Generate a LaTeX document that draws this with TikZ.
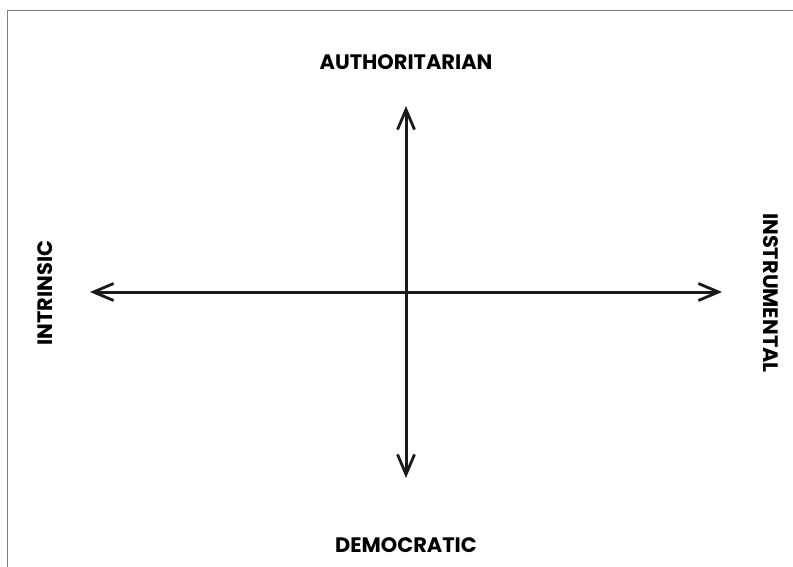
\documentclass[tikz,border=0pt]{standalone}
\usepackage{fontspec}
\setmainfont{Poppins}
\usetikzlibrary{arrows.meta}
\definecolor{framegray}{HTML}{808080}
\definecolor{axisblack}{HTML}{1A1A1A}
\tikzset{
  axisline/.style={draw=axisblack, line width=3bp, {Straight Barb[length=20bp,width=17bp,line width=2.8bp]}-{Straight Barb[length=20bp,width=17bp,line width=2.8bp]}},
  poslabel/.style={font=\fontsize{21}{25}\selectfont\bfseries, text=black, inner sep=0pt},
  framepart/.style={draw=framegray, line width=1.7bp}
}
\begin{document}
\begin{tikzpicture}[x=1bp,y=-1bp]
\useasboundingbox (0,0) rectangle (793,567);
\coordinate (fl) at (7.5,567);
\coordinate (fc) at (7.5,10.5);
\coordinate (fr) at (793,10.5);
\draw[framepart] (fl) -- (fc) -- (fr);
\coordinate (top) at (406,106);
\coordinate (bot) at (406,478);
\coordinate (left) at (90,292);
\coordinate (right) at (722,292);
\draw[axisline] (bot) -- (top);
\draw[axisline] (left) -- (right);
\node[poslabel] (auth) at (406,62) {AUTHORITARIAN};
\node[poslabel] (demo) at (406,545) {DEMOCRATIC};
\node[poslabel, rotate=90] (intr) at (45,293) {INTRINSIC};
\node[poslabel, rotate=-90] (inst) at (771,293) {INSTRUMENTAL};
\end{tikzpicture}
\end{document}
